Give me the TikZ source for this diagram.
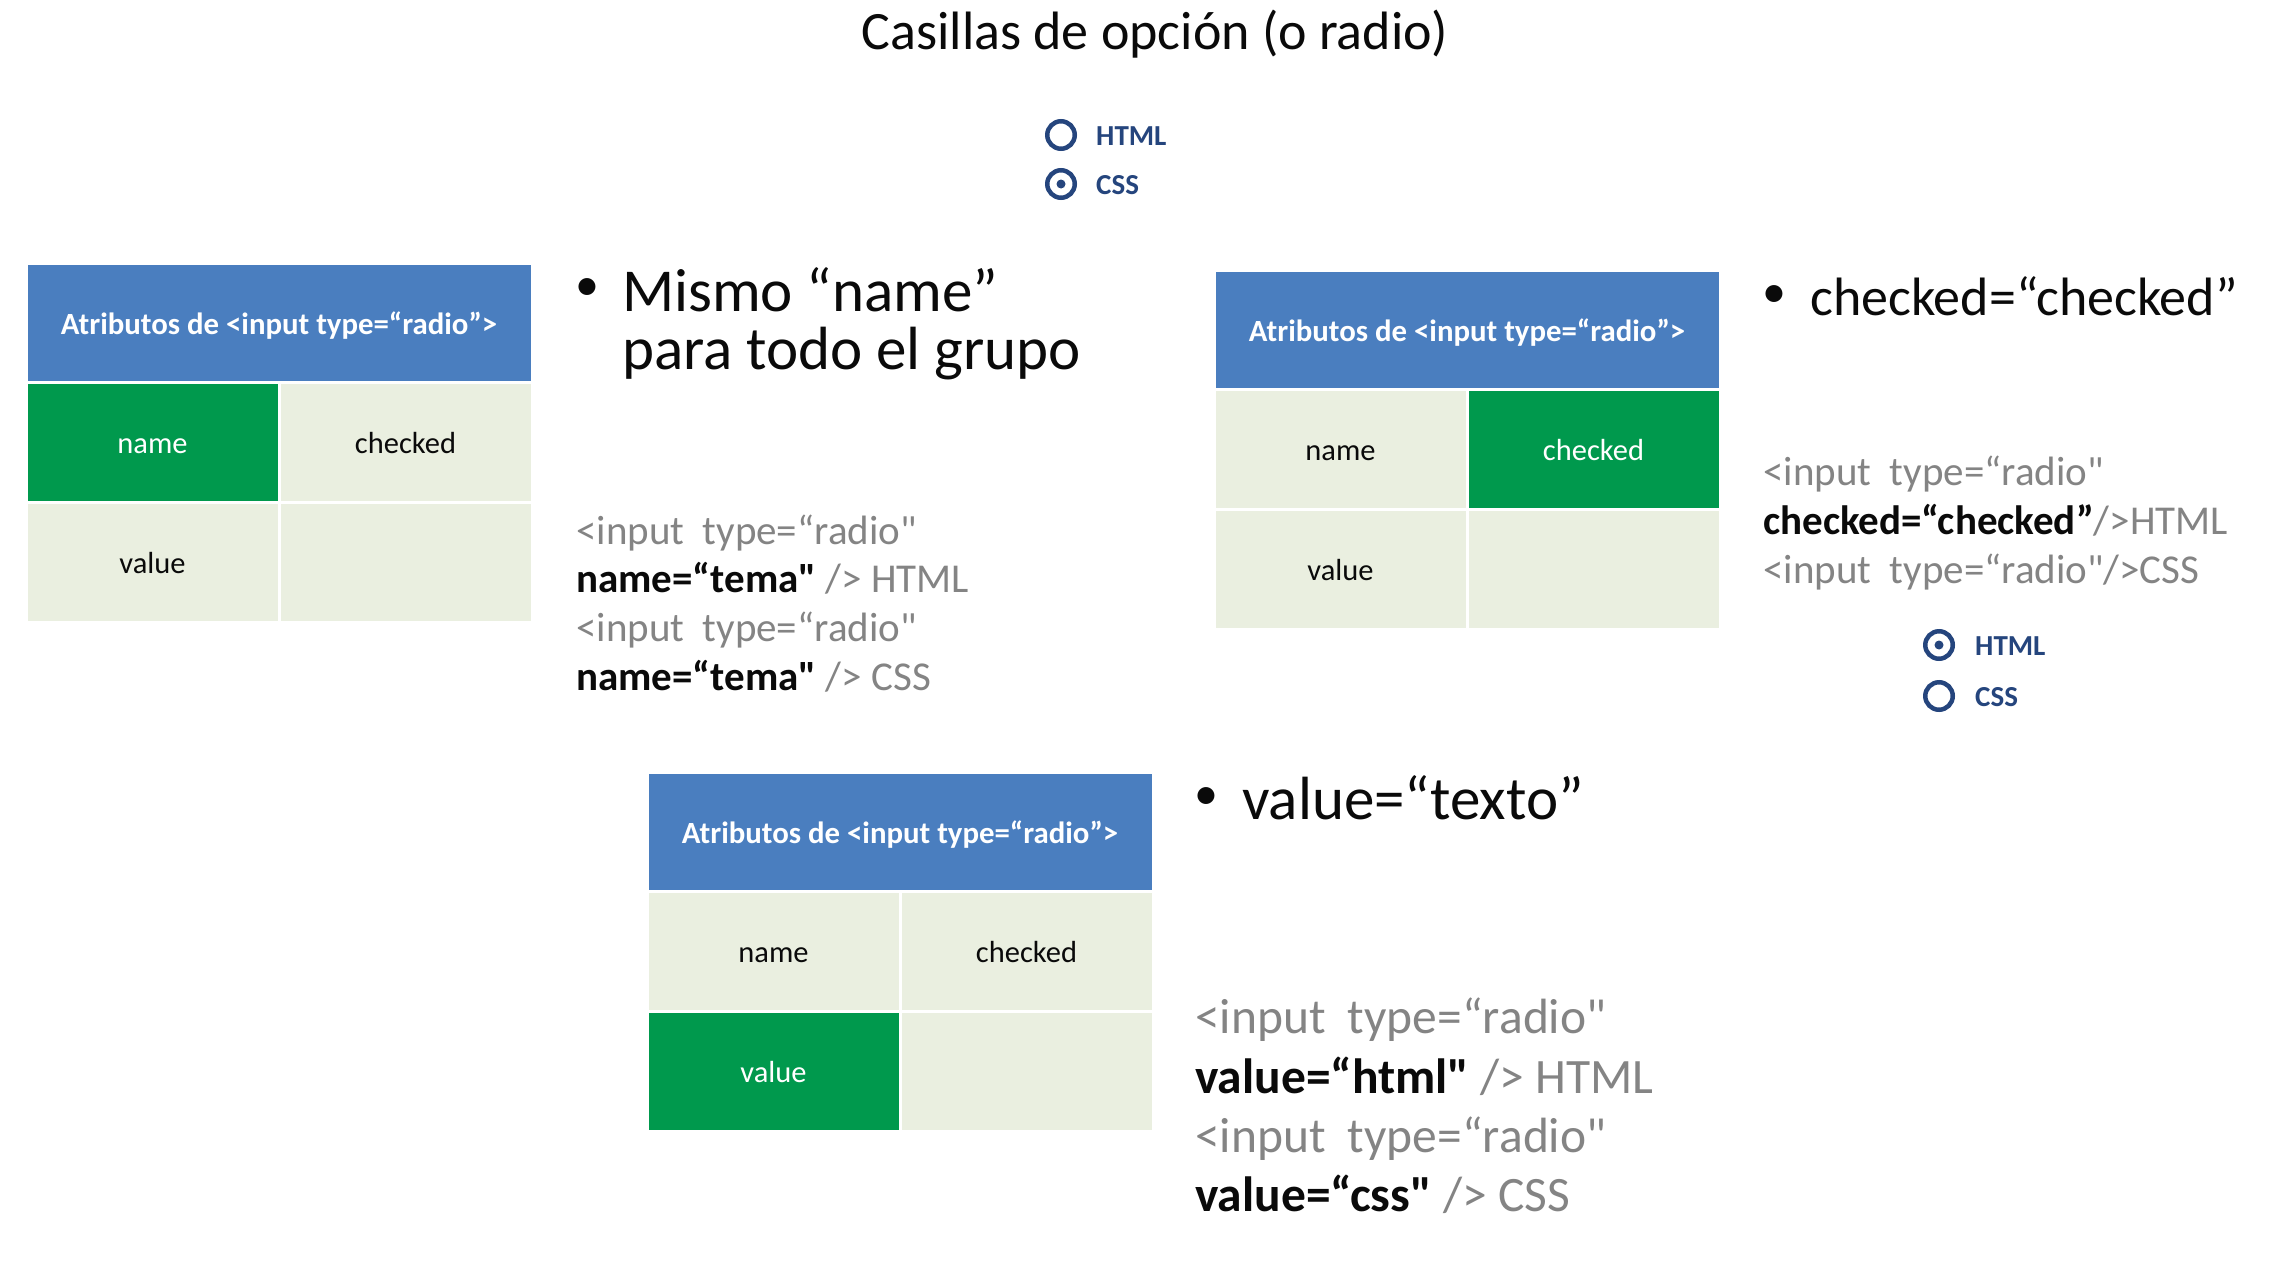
\documentclass[tikz,border=0pt]{standalone}
\usepackage{fontspec}
\setmainfont{Carlito}
\newfontfamily\plainq{Carlito}
\definecolor{hdrblue}{RGB}{74,126,191}
\definecolor{selgreen}{RGB}{0,153,77}
\definecolor{offfill}{RGB}{234,239,224}
\definecolor{navy}{RGB}{37,69,125}
\definecolor{codegrey}{RGB}{132,132,132}
\definecolor{txt}{RGB}{10,10,10}
\tikzset{
  basecell/.style={draw=white, line width=3pt, inner sep=0pt, outer sep=0pt,
    font=\fontsize{30.5}{36}\selectfont, text height=29pt, text depth=6pt},
  hdrcell/.style={basecell, fill=hdrblue, text=white, font=\fontsize{30.8}{36}\selectfont\bfseries,
    minimum width=506pt, minimum height=119pt, anchor=north west},
  oncell/.style={basecell, fill=selgreen, text=white, minimum width=253pt, minimum height=120pt},
  offcell/.style={basecell, fill=offfill, text=txt, minimum width=253pt, minimum height=120pt},
  radiobtn/.style={circle, draw=navy, line width=4.5pt, minimum size=27.5pt, inner sep=0pt},
  radiodot/.style={circle, fill=navy, minimum size=9pt, inner sep=0pt},
  radiolabel/.style={anchor=base west, inner sep=0pt, text=navy, font=\fontsize{29}{34}\selectfont\bfseries},
  bigtext/.style={anchor=base west, inner sep=0pt, text=txt, font=\fontsize{61}{70}\selectfont},
  midtext/.style={anchor=base west, inner sep=0pt, text=txt, font=\fontsize{54}{62}\selectfont},
  bulletmark/.style={anchor=center, inner sep=0pt, text=txt, font=\fontsize{48}{56}\selectfont},
  codeA/.style={anchor=base west, inner sep=0pt, text=codegrey, font=\fontsize{41}{48}\selectfont},
  codeB/.style={anchor=base west, inner sep=0pt, text=codegrey, font=\fontsize{49.5}{58}\selectfont},
  titletext/.style={anchor=base, inner sep=0pt, text=txt, font=\fontsize{54}{64}\selectfont}
}
\newcommand\attrtable[6]{%
  \node[hdrcell] (#1h) at (#2,#3) {Atributos de <input type=“radio”>};
  \node[#4, anchor=north west] (#1n) at (#1h.south west) {name};
  \node[#5, anchor=north west] (#1c) at (#1n.north east) {checked};
  \node[#6, anchor=north west] (#1v) at (#1n.south west) {value};
  \node[offcell, anchor=north west] (#1e) at (#1v.north east) {};
}
\newcommand\bld[1]{\textcolor{txt}{\bfseries #1}}
\newcommand\dsp{\hspace{0.45em}}
\newcommand\sq{{\plainq\symbol{34}}}
\begin{document}
\begin{tikzpicture}[x=1pt,y=-1pt]
\useasboundingbox[fill=white] (0,0) rectangle (2269,1269);

% title
\node[titletext] (title) at (1155,49) {Casillas de opción (o radio)};

% top radio group
\node[radiobtn] (ra1) at (1061,135) {};
\node[radiobtn] (ra2) at (1061,184) {};
\node[radiodot] (ra2d) at (ra2.center) {};
\node[radiolabel] (ra1l) at (1096,145) {HTML};
\node[radiolabel] (ra2l) at (1096,194) {CSS};

% table 1
\attrtable{ta}{26}{263}{oncell}{offcell}{offcell}
\node[bulletmark] (b1) at (587,290) {•};
\node[bigtext] (b1a) at (622,311) {Mismo “name”};
\node[bigtext] (b1b) at (622,369) {para todo el grupo};
\node[codeA] (c1a) at (576,544) {<input\dsp type=“radio\sq};
\node[codeA] (c1b) at (576,592) {\bld{name=“tema\sq} /> HTML};
\node[codeA] (c1c) at (576,641) {<input\dsp type=“radio\sq};
\node[codeA] (c1d) at (576,690) {\bld{name=“tema\sq} /> CSS};

% table 2
\attrtable{tb}{1214}{270}{offcell}{oncell}{offcell}
\node[bulletmark] (b2) at (1774,297) {•};
\node[midtext] (b2a) at (1810,315) {checked=“checked”};
\node[codeA] (c2a) at (1763,485) {<input\dsp type=“radio\sq};
\node[codeA] (c2b) at (1763,534) {\bld{checked=“checked”}/>HTML};
\node[codeA] (c2c) at (1763,583) {<input\dsp type=“radio\sq/>CSS};
\node[radiobtn] (rb1) at (1939,645) {};
\node[radiodot] (rb1d) at (rb1.center) {};
\node[radiobtn] (rb2) at (1939,696) {};
\node[radiolabel] (rb1l) at (1975,655) {HTML};
\node[radiolabel] (rb2l) at (1975,706) {CSS};

% table 3
\attrtable{tc}{647}{772}{offcell}{offcell}{oncell}
\node[bulletmark] (b3) at (1206,799) {•};
\node[bigtext] (b3a) at (1242,819) {value=“texto”};
\node[codeB] (c3a) at (1195,1033) {<input\dsp type=“radio\sq};
\node[codeB] (c3b) at (1195,1093) {\bld{value=“html\sq} /> HTML};
\node[codeB] (c3c) at (1195,1152) {<input\dsp type=“radio\sq};
\node[codeB] (c3d) at (1195,1211) {\bld{value=“css\sq} /> CSS};
\end{tikzpicture}
\end{document}
